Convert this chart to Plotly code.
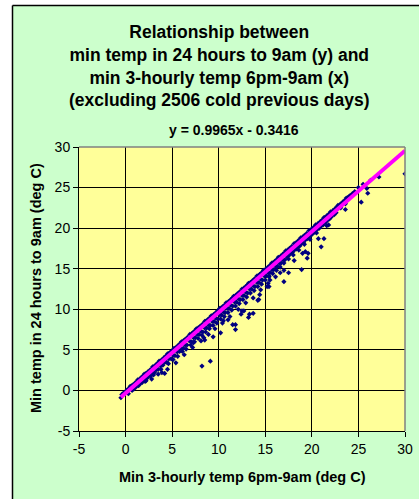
import plotly.graph_objects as go

# ---- data ----
# dense upper edge of the cloud (close to y = x)
band_top_x = [-0.4, 0.1, 0.5, 0.8, 1.3, 1.7, 2.0, 2.4, 2.9, 3.3, 3.6, 4.1, 4.5, 4.8, 5.2,
              5.7, 6.0, 6.4, 6.9, 7.3, 7.6, 8.0, 8.5, 8.8, 9.2, 9.7, 10.1, 10.4, 10.8, 11.3,
              11.6, 12.0, 12.5, 12.9, 13.2, 13.6, 14.1, 14.4, 14.8, 15.3, 15.7, 16.0, 16.4, 16.9, 17.2,
              17.6, 18.1, 18.5, 18.8, 19.2, 19.7, 20.0, 20.4, 20.9, 21.3, 21.6, 22.0, 22.5, 22.8, 23.3,
              23.7, 24.1, 24.6, 25.0, 25.5]
band_top_y = [-0.5, 0.0, 0.5, 0.7, 1.3, 1.6, 2.0, 2.3, 2.9, 3.2, 3.6, 4.0, 4.5, 4.7, 5.2,
              5.6, 6.0, 6.3, 6.9, 7.2, 7.6, 7.9, 8.5, 8.7, 9.2, 9.6, 10.1, 10.3, 10.8, 11.2,
              11.6, 11.9, 12.5, 12.8, 13.2, 13.5, 14.1, 14.3, 14.8, 15.2, 15.7, 15.9, 16.4, 16.8, 17.2,
              17.5, 18.1, 18.4, 18.8, 19.1, 19.7, 19.9, 20.4, 20.8, 21.3, 21.5, 22.0, 22.4, 22.8, 23.2,
              23.7, 24.0, 24.5, 25.0, 25.4]

band_top2_x = [-0.2, 0.3, 0.65, 1.05, 1.5, 1.85, 2.2, 2.65, 3.1, 3.45, 3.85, 4.3, 4.65, 5.0, 5.45,
               5.85, 6.2, 6.65, 7.1, 7.45, 7.8, 8.25, 8.65, 9.0, 9.45, 9.9, 10.25, 10.6, 11.05, 11.45,
               11.8, 12.25, 12.7, 13.05, 13.4, 13.85, 14.25, 14.6, 15.05, 15.5, 15.85, 16.2, 16.65, 17.05,
               17.4, 17.85, 18.3, 18.65, 19.0, 19.45, 19.85, 20.2, 20.65, 21.1, 21.45, 21.8, 22.25, 22.65,
               23.05, 23.5, 23.9, 24.35]
band_top2_y = [-0.3, 0.2, 0.55, 0.95, 1.4, 1.75, 2.1, 2.55, 3.0, 3.35, 3.75, 4.2, 4.55, 4.9, 5.35,
               5.75, 6.1, 6.55, 7.0, 7.35, 7.7, 8.15, 8.55, 8.9, 9.35, 9.8, 10.15, 10.5, 10.95, 11.35,
               11.7, 12.15, 12.6, 12.95, 13.3, 13.75, 14.15, 14.5, 14.95, 15.4, 15.75, 16.1, 16.55, 16.95,
               17.3, 17.75, 18.2, 18.55, 18.9, 19.35, 19.75, 20.1, 20.55, 21.0, 21.35, 21.7, 22.15, 22.55,
               22.95, 23.4, 23.8, 24.25]

# dense part just below the trend line
band_mid_x = [0.3, 0.9, 1.4, 1.8, 2.3, 2.7, 3.1, 3.5, 4.0, 4.4, 4.9, 5.3, 5.8, 6.2, 6.6,
              7.1, 7.5, 7.9, 8.3, 8.7, 9.1, 9.5, 9.9, 10.3, 10.7, 11.1, 11.5, 11.9, 12.3, 12.7,
              13.1, 13.5, 13.9, 14.3, 14.7, 15.1, 15.5, 15.9, 16.3, 16.7, 17.1, 17.5, 17.9, 18.3, 18.7,
              19.1, 19.5, 19.9, 20.3, 20.8, 21.2, 21.7, 22.1, 22.6, 23.1, 23.6]
band_mid_y = [-0.4, 0.2, 0.6, 1.0, 1.5, 1.8, 2.2, 2.6, 3.1, 3.5, 3.9, 4.3, 4.8, 5.2, 5.6,
              6.0, 6.5, 6.9, 7.2, 7.7, 8.0, 8.5, 8.8, 9.3, 9.6, 10.1, 10.4, 10.9, 11.2, 11.7,
              12.0, 12.5, 12.8, 13.3, 13.6, 14.1, 14.5, 14.9, 15.3, 15.7, 16.1, 16.6, 17.0, 17.4, 17.8,
              18.2, 18.7, 19.1, 19.5, 20.0, 20.4, 21.0, 21.4, 21.9, 22.5, 23.0]

band_mid2_x = [1.1, 1.6, 2.05, 2.5, 2.9, 3.3, 3.75, 4.2, 4.65, 5.1, 5.55, 6.0, 6.4, 6.85, 7.3,
               7.7, 8.1, 8.5, 8.9, 9.3, 9.7, 10.1, 10.5, 10.9, 11.3, 11.7, 12.1, 12.5, 12.9, 13.3,
               13.7, 14.1, 14.5, 14.9, 15.3, 15.7, 16.1, 16.5, 16.9, 17.3, 17.7, 18.1, 18.5, 18.9, 19.3,
               19.7, 20.1, 20.55, 21.0, 21.45, 21.9, 22.4]
band_mid2_y = [0.4, 0.85, 1.3, 1.75, 2.15, 2.55, 3.0, 3.45, 3.9, 4.35, 4.75, 5.2, 5.6, 6.1, 6.5,
               6.9, 7.3, 7.7, 8.1, 8.5, 8.9, 9.3, 9.7, 10.1, 10.5, 10.9, 11.3, 11.7, 12.1, 12.5,
               12.9, 13.3, 13.7, 14.1, 14.5, 14.9, 15.3, 15.7, 16.1, 16.5, 16.9, 17.3, 17.7, 18.1, 18.55,
               18.95, 19.35, 19.8, 20.25, 20.7, 21.15, 21.65]

# lower edge of the dense band
band_low_x = [2.2, 3.0, 3.8, 4.6, 5.1, 5.6, 6.1, 6.5, 7.0, 7.4, 7.8, 8.2, 8.6, 9.0, 9.4,
              9.8, 10.2, 10.6, 11.0, 11.4, 11.8, 12.2, 12.6, 13.0, 13.4, 13.8, 14.2, 14.6, 15.0, 15.4,
              15.8, 16.2, 16.6, 17.0, 17.5, 18.0, 18.6, 19.2, 19.8, 20.5]
band_low_y = [1.2, 1.9, 2.6, 3.3, 3.8, 4.2, 4.8, 5.1, 5.6, 6.0, 6.4, 6.8, 7.2, 7.6, 8.0,
              8.3, 8.8, 9.1, 9.6, 9.9, 10.4, 10.7, 11.2, 11.5, 12.0, 12.3, 12.8, 13.1, 13.6, 14.0,
              14.4, 14.8, 15.2, 15.7, 16.2, 16.7, 17.3, 18.0, 18.6, 19.4]

# sparser points further below
sparse_x = [3.9, 5.4, 6.3, 7.2, 8.1, 8.9, 9.6, 10.4, 11.2, 12.1, 12.9, 13.7, 14.5, 15.3, 16.1,
            17.0, 18.1, 19.0]
sparse_y = [2.2, 3.4, 4.4, 5.3, 6.1, 6.9, 7.6, 8.3, 9.1, 10.0, 10.8, 11.4, 12.4, 13.2, 14.0,
            14.8, 16.0, 16.9]

# isolated outliers
outlier_x = [-0.5, 0.7, 2.1, 2.8, 3.5, 4.2, 4.5, 7.3, 8.4, 8.5, 8.2, 9.1, 9.4, 10.2, 10.5,
             11.0, 11.5, 11.8, 11.8, 12.4, 12.5, 12.7, 13.2, 13.3, 13.7, 14.2, 14.3, 14.4, 15.2, 15.4,
             15.5, 15.4, 16.6, 17.0, 17.5, 18.9, 19.3, 19.5, 19.6, 20.7, 21.0, 21.3, 21.6, 21.8, 23.6,
             24.0, 25.3, 25.9, 26.0, 26.3, 27.2, 30.0]
outlier_y = [-0.9, 0.0, 1.1, 1.4, 2.0, 2.1, 2.6, 5.9, 6.5, 6.2, 3.0, 3.6, 6.6, 7.1, 8.6,
             8.7, 8.1, 7.5, 8.1, 9.4, 9.8, 9.8, 9.0, 9.4, 9.5, 11.1, 11.2, 11.8, 12.8, 12.8,
             13.6, 14.1, 14.5, 13.4, 14.5, 14.9, 17.1, 16.3, 16.9, 18.7, 17.7, 18.7, 20.3, 20.4, 22.3,
             23.9, 23.2, 24.9, 24.3, 25.9, 26.3, 26.7]

# trend line end points: y = 0.9965x - 0.3416
trend_x = [-0.5, 30.0]
trend_y = [-0.84, 29.55]

axis_ticks = [-5, 0, 5, 10, 15, 20, 25, 30]
axis_tick_labels = ["-5", "0", "5", "10", "15", "20", "25", "30"]

FONT = "Liberation Sans, Arial, sans-serif"
NAVY = "#000080"

fig = go.Figure()
pts_x = band_top_x + band_top2_x + band_mid_x + band_mid2_x + band_low_x + sparse_x + outlier_x
pts_y = band_top_y + band_top2_y + band_mid_y + band_mid2_y + band_low_y + sparse_y + outlier_y
fig.add_trace(go.Scatter(x=pts_x, y=pts_y, mode="markers",
                         marker=dict(symbol="diamond", size=4, color=NAVY,
                                     line=dict(width=0)),
                         hoverinfo="skip", showlegend=False))
fig.add_trace(go.Scatter(x=trend_x, y=trend_y, mode="lines",
                         line=dict(color="#FF00FF", width=4),
                         hoverinfo="skip", showlegend=False))

axis_common = dict(range=[-5, 30], tickvals=axis_ticks, ticktext=axis_tick_labels,
                   ticks="outside", ticklen=5,
                   tickcolor="black", showline=True, linecolor="black", linewidth=1,
                   showgrid=True, gridcolor="black", gridwidth=1, zeroline=False,
                   tickfont=dict(family=FONT, size=14, color="black"))

fig.update_xaxes(**axis_common)
fig.update_yaxes(**axis_common)

L, R, T, B = 79, 14, 147, 68
W, H = 419, 499
pw, ph = W - L - R, H - T - B

def px(x):
    return (x - L) / pw

def py(y):
    return (H - B - y) / ph

title_lines = ["Relationship between", "min temp in 24 hours to 9am (y) and",
               "min 3-hourly temp 6pm-9am (x)", "(excluding 2506 cold previous days)"]

annotations = [
    dict(text="<br>".join("<b>%s</b>" % s for s in title_lines),
         x=px(219), y=py(66), xref="paper", yref="paper", xanchor="center", yanchor="middle",
         showarrow=False, font=dict(family=FONT, size=17.5, color="black")),
    dict(text="<b>y = 0.9965x - 0.3416</b>", x=px(234), y=py(130), xref="paper", yref="paper",
         xanchor="center", yanchor="middle", showarrow=False,
         font=dict(family=FONT, size=14, color="black")),
    dict(text="<b>Min 3-hourly temp 6pm-9am (deg C)</b>", x=px(242), y=py(477), xref="paper",
         yref="paper", xanchor="center", yanchor="middle", showarrow=False,
         font=dict(family=FONT, size=14.5, color="black")),
    dict(text="<b>Min temp in 24 hours to 9am (deg C)</b>", x=px(36), y=py(288), xref="paper",
         yref="paper", xanchor="center", yanchor="middle", showarrow=False, textangle=-90,
         font=dict(family=FONT, size=14.5, color="black")),
]

shapes = [
    # white margin outside the chart border (left and top)
    dict(type="rect", xref="paper", yref="paper", x0=px(-5), x1=px(12.5), y0=py(520), y1=py(-5),
         fillcolor="white", line=dict(width=0), layer="above"),
    dict(type="rect", xref="paper", yref="paper", x0=px(-5), x1=px(440), y0=py(5.5), y1=py(-5),
         fillcolor="white", line=dict(width=0), layer="above"),
    # chart border
    dict(type="line", xref="paper", yref="paper", x0=px(12.5), x1=px(12.5), y0=py(5.5), y1=py(520),
         line=dict(color="black", width=1.5), layer="above"),
    dict(type="line", xref="paper", yref="paper", x0=px(12.5), x1=px(440), y0=py(5.5), y1=py(5.5),
         line=dict(color="black", width=1.5), layer="above"),
    # grey plot-area border (top, right)
    dict(type="line", xref="paper", yref="paper", x0=0, x1=1, y0=1, y1=1,
         line=dict(color="#808080", width=1.5), layer="above"),
    dict(type="line", xref="paper", yref="paper", x0=1, x1=1, y0=0, y1=1,
         line=dict(color="#808080", width=1.5), layer="above"),
]

fig.update_layout(width=W, height=H, margin=dict(l=L, r=R, t=T, b=B, autoexpand=False),
                  paper_bgcolor="#CCFFCC", plot_bgcolor="#FFFF99",
                  annotations=annotations, shapes=shapes, showlegend=False)

fig.write_html("out.html", config={"displayModeBar": False},
               post_script="document.body.style.margin='0';document.body.style.overflow='hidden';")
